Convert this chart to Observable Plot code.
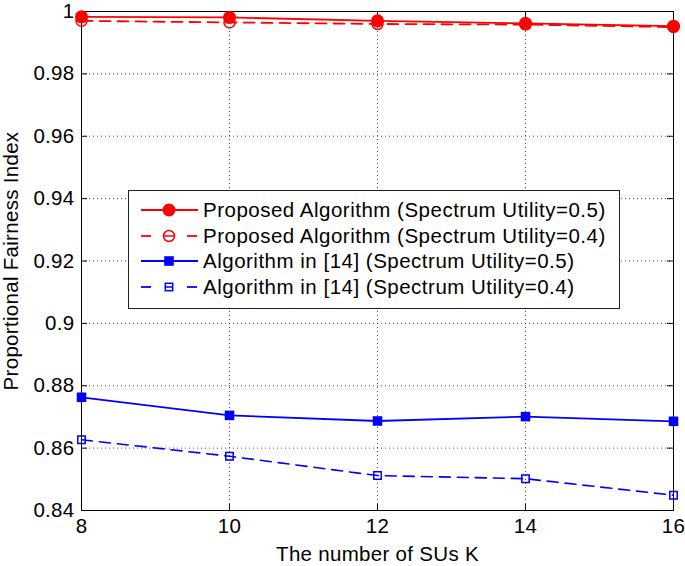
<!DOCTYPE html>
<html>
<head>
<meta charset="utf-8">
<script src="https://cdn.jsdelivr.net/npm/d3@7"></script>
<script src="https://cdn.jsdelivr.net/npm/@observablehq/plot@0.6"></script>
<style>
  html, body { margin: 0; padding: 0; background: white; }
  #wrap { position: relative; width: 685px; height: 566px; font-family: "Liberation Sans", Arial, sans-serif; }
  #legend { position: absolute; left: 128px; top: 190px; width: 492px; height: 119px; border: 1px solid #222; background: white; box-sizing: border-box; padding-top: 6px; }
  .row { height: 25.7px; display: flex; align-items: center; font-size: 20.5px; letter-spacing: 0.5px; white-space: nowrap; }
  .row svg { width: 74px; height: 24px; flex: none; }
</style>
</head>
<body>
<div id="wrap"></div>
<script>
// ---- data ----
const K = [8, 10, 12, 14, 16];
const proposed05 = [0.9983, 0.9981, 0.9970, 0.9962, 0.9953];
const proposed04 = [0.9970, 0.9965, 0.9960, 0.9958, 0.9950];
const ref14_05 = [0.8763, 0.8705, 0.8687, 0.8701, 0.8686];
const ref14_04 = [0.8627, 0.8574, 0.8512, 0.8502, 0.8449];
const seriesNames = [
  "Proposed Algorithm (Spectrum Utility=0.5)",
  "Proposed Algorithm (Spectrum Utility=0.4)",
  "Algorithm in [14] (Spectrum Utility=0.5)",
  "Algorithm in [14] (Spectrum Utility=0.4)"
];
const xTicks = [8, 10, 12, 14, 16];
const yTicks = [0.84, 0.86, 0.88, 0.9, 0.92, 0.94, 0.96, 0.98, 1];
const xLabel = "The number of SUs K";
const yLabel = "Proportional Fairness Index";

const rows = (vals) => K.map((k, i) => ({k, v: vals[i]}));
const dP5 = rows(proposed05), dP4 = rows(proposed04), dR5 = rows(ref14_05), dR4 = rows(ref14_04);

const W = 685, H = 566, mL = 81, mR = 12, mT = 11, mB = 56;
const pw = W - mL - mR, ph = H - mT - mB;
const dash = "11,7";

const chart = Plot.plot({
  width: W, height: H,
  marginLeft: mL, marginRight: mR, marginTop: mT, marginBottom: mB,
  style: {fontFamily: "'Liberation Sans', Arial, sans-serif", fontSize: "20.5px", color: "black", background: "white", letterSpacing: "0.3px"},
  x: {domain: [8, 16]},
  y: {domain: [0.84, 1]},
  marks: [
    Plot.gridX(xTicks, {stroke: "#000", strokeOpacity: 0.7, strokeDasharray: "1,3"}),
    Plot.gridY(yTicks, {stroke: "#000", strokeOpacity: 0.7, strokeDasharray: "1,3"}),
    Plot.tickX(xTicks, {x: d => d, insetTop: ph - 6, stroke: "black"}),
    Plot.tickX(xTicks, {x: d => d, insetBottom: ph - 6, stroke: "black"}),
    Plot.tickY(yTicks, {y: d => d, insetRight: pw - 6, stroke: "black"}),
    Plot.tickY(yTicks, {y: d => d, insetLeft: pw - 6, stroke: "black"}),
    Plot.frame({stroke: "black"}),
    Plot.axisX(xTicks, {tickSize: 0, tickPadding: 8, label: xLabel, labelAnchor: "center", labelArrow: "none", labelOffset: 50}),
    Plot.axisY(yTicks, {tickSize: 0, tickPadding: 7, tickFormat: d => String(+d.toFixed(2)), label: yLabel, labelAnchor: "center", labelArrow: "none", labelOffset: 78}),
    Plot.line(dR4, {x: "k", y: "v", stroke: "#0000ff", strokeWidth: 1.6, strokeDasharray: dash}),
    Plot.dot(dR4, {x: "k", y: "v", symbol: "square", r: 4.2, stroke: "#0000ff", strokeWidth: 1.5, fill: "none"}),
    Plot.line(dR5, {x: "k", y: "v", stroke: "#0000ff", strokeWidth: 1.8}),
    Plot.dot(dR5, {x: "k", y: "v", symbol: "square", r: 5.4, fill: "#0000ff", stroke: "none"}),
    Plot.line(dP4, {x: "k", y: "v", stroke: "#ff0000", strokeWidth: 1.8, strokeDasharray: dash}),
    Plot.dot(dP4, {x: "k", y: "v", symbol: "circle", r: 5.5, stroke: "#ff0000", strokeWidth: 1.5, fill: "none"}),
    Plot.line(dP5, {x: "k", y: "v", stroke: "#ff0000", strokeWidth: 1.8}),
    Plot.dot(dP5, {x: "k", y: "v", symbol: "circle", r: 6.5, fill: "#ff0000", stroke: "none"})
  ]
});

const wrap = document.getElementById("wrap");
wrap.appendChild(chart);

// legend
const legend = document.createElement("div");
legend.id = "legend";
const samples = [
  `<line x1="12" y1="12" x2="69" y2="12" stroke="#ff0000" stroke-width="1.8"/><circle cx="40" cy="12" r="6.5" fill="#ff0000"/>`,
  `<line x1="12" y1="12" x2="22" y2="12" stroke="#ff0000" stroke-width="1.8"/><line x1="58" y1="12" x2="68" y2="12" stroke="#ff0000" stroke-width="1.8"/><circle cx="40" cy="12" r="5.5" fill="none" stroke="#ff0000" stroke-width="1.5"/><line x1="34.5" y1="12" x2="45.5" y2="12" stroke="#ff0000" stroke-width="1.5"/>`,
  `<line x1="12" y1="12" x2="69" y2="12" stroke="#0000ff" stroke-width="1.8"/><rect x="35.2" y="7.2" width="9.6" height="9.6" fill="#0000ff"/>`,
  `<line x1="12" y1="12" x2="22" y2="12" stroke="#0000ff" stroke-width="1.8"/><line x1="58" y1="12" x2="68" y2="12" stroke="#0000ff" stroke-width="1.8"/><rect x="36.3" y="8.3" width="7.4" height="7.4" fill="none" stroke="#0000ff" stroke-width="1.5"/><line x1="36.3" y1="12" x2="43.7" y2="12" stroke="#0000ff" stroke-width="1.5"/>`
];
seriesNames.forEach((name, i) => {
  const r = document.createElement("div");
  r.className = "row";
  r.innerHTML = `<svg viewBox="0 0 74 24">${samples[i]}</svg><span>${name.replace(/&/g,"&amp;").replace(/</g,"&lt;")}</span>`;
  legend.appendChild(r);
});
wrap.appendChild(legend);
</script>
</body>
</html>
